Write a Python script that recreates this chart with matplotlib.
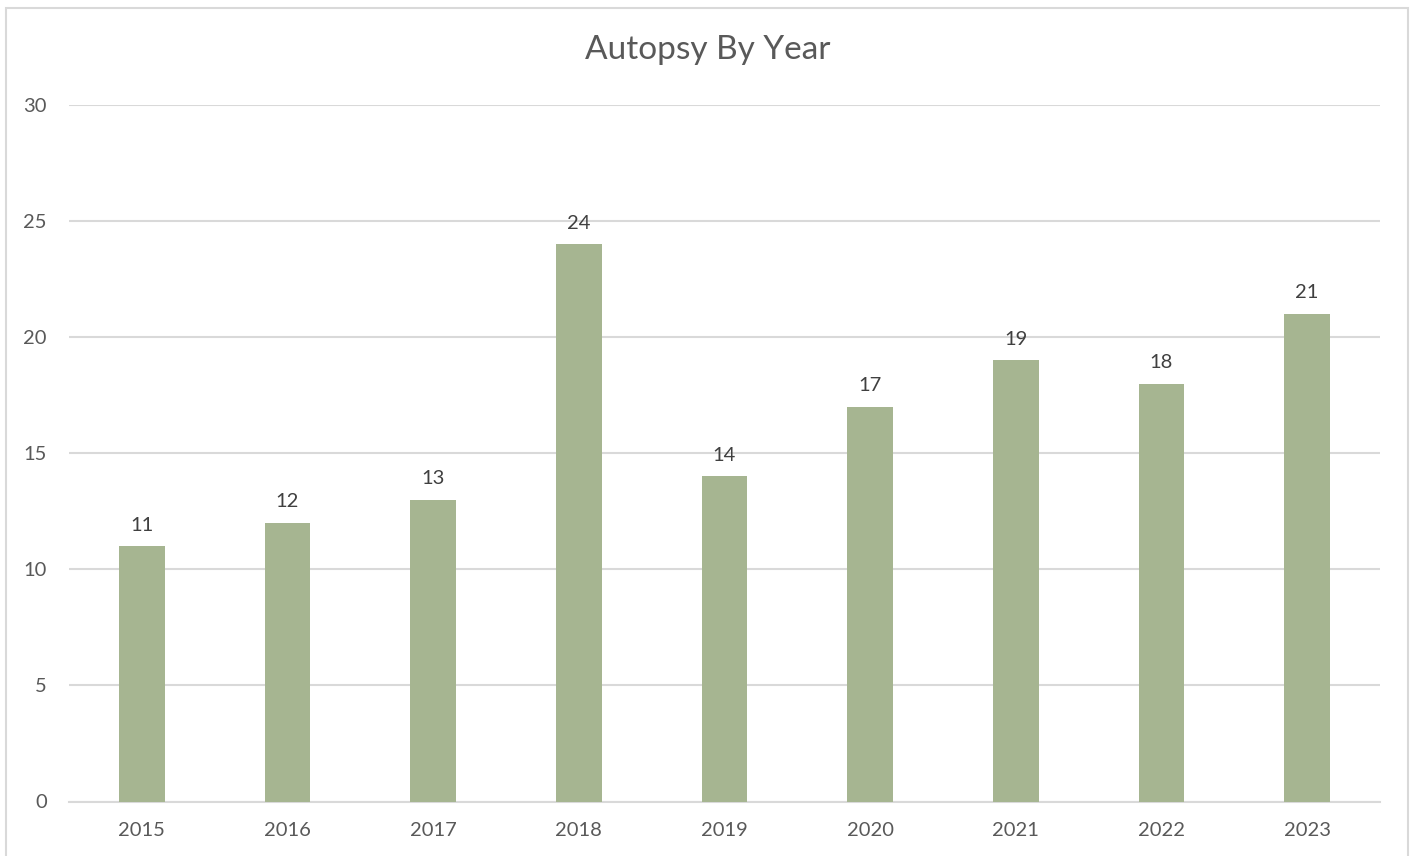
import matplotlib
matplotlib.use("Agg")
import matplotlib.pyplot as plt
from matplotlib.patches import Rectangle

years = ["2015", "2016", "2017", "2018", "2019", "2020", "2021", "2022", "2023"]
autopsies = [11, 12, 13, 24, 14, 17, 19, 18, 21]
yticks = [0, 5, 10, 15, 20, 25, 30]

plt.rcParams['font.family'] = ['Lato', 'DejaVu Sans']
W, H = 1416, 856
fig = plt.figure(figsize=(W / 100, H / 100), dpi=100)
fig.patch.set_facecolor('white')

# outer chart border
fig.add_artist(Rectangle((6 / W, -0.05), 1402 / W, 1.05 - 8 / H, transform=fig.transFigure,
                         fill=False, edgecolor='#D9D9D9', linewidth=1.5))

ax = fig.add_axes([69 / W, (H - 801.5) / H, (1380 - 69) / W, (801.5 - 105) / H])
x = list(range(len(years)))
ax.bar(x, autopsies, width=0.312, color='#A6B591', zorder=3)
ax.set_xlim(-0.5, len(years) - 0.5)
ax.set_ylim(0, 30)
ax.set_yticks(yticks)
ax.set_xticks(x)
ax.set_xticklabels(years)
ax.yaxis.grid(True, color='#D9D9D9', linewidth=1.5, zorder=0)
ax.set_axisbelow(True)
for s in ['top', 'right', 'left']:
    ax.spines[s].set_visible(False)
ax.spines['bottom'].set_color('#D9D9D9')
ax.spines['bottom'].set_linewidth(1.5)
ax.tick_params(axis='both', length=0, labelsize=14.5, labelcolor='#595959')
ax.tick_params(axis='y', pad=16)
ax.tick_params(axis='x', pad=15)

for xi, v in zip(x, autopsies):
    ax.annotate(str(v), (xi, v), xytext=(0, 9), textcoords='offset points',
                ha='center', va='bottom', fontsize=14.5, color='#404040')

fig.text(0.5, (H - 50) / H, "Autopsy By Year", ha='center', va='center',
         fontsize=24, color='#595959')

fig.savefig("out.png", dpi=100, facecolor='white')
